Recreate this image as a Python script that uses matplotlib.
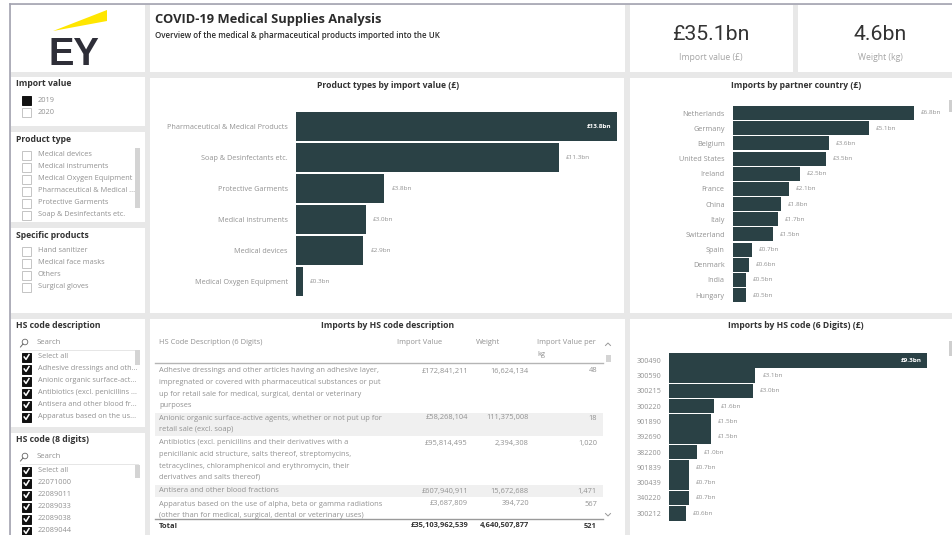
import matplotlib
matplotlib.use("Agg")
import matplotlib.pyplot as plt
from matplotlib.patches import Rectangle, Polygon

plt.rcParams["font.family"] = ["Open Sans", "DejaVu Sans"]

BAR = "#2a4145"
GREY = "#929292"
DARK = "#333333"
W, H = 953, 535

# bar chart data
product_types = ["Pharmaceutical & Medical Products", "Soap & Desinfectants etc.", "Protective Garments",
                 "Medical instruments", "Medical devices", "Medical Oxygen Equipment"]
product_values = [13.8, 11.3, 3.8, 3.0, 2.9, 0.3]

countries = ["Netherlands", "Germany", "Belgium", "United States", "Ireland", "France", "China",
             "Italy", "Switzerland", "Spain", "Denmark", "India", "Hungary"]
country_values = [6.8, 5.1, 3.6, 3.5, 2.5, 2.1, 1.8, 1.7, 1.5, 0.7, 0.6, 0.5, 0.5]

hs_codes = ["300490", "300590", "300215", "300220", "901890", "392690",
            "382200", "901839", "300439", "340220", "300212"]
hs_values = [9.3, 3.1, 3.0, 1.6, 1.5, 1.5, 1.0, 0.7, 0.7, 0.7, 0.6]

# slicer items
import_years = ["2019", "2020"]
type_items = ["Medical devices", "Medical instruments", "Medical Oxygen Equipment",
              "Pharmaceutical & Medical ...", "Protective Garments", "Soap & Desinfectants etc."]
specific_items = ["Hand sanitizer", "Medical face masks", "Others", "Surgical gloves"]
desc_items = ["Select all", "Adhesive dressings and oth...", "Anionic organic surface-act...",
              "Antibiotics (excl. penicillins ...", "Antisera and other blood fr...", "Apparatus based on the us..."]
code8_items = ["Select all", "22071000", "22089011", "22089033", "22089038", "22089044"]

# table rows
table_desc = [
    ["Adhesive dressings and other articles having an adhesive layer,",
     "impregnated or covered with pharmaceutical substances or put",
     "up for retail sale for medical, surgical, dental or veterinary",
     "purposes"],
    ["Anionic organic surface-active agents, whether or not put up for",
     "retail sale (excl. soap)"],
    ["Antibiotics (excl. penicillins and their derivatives with a",
     "penicillanic acid structure, salts thereof, streptomycins,",
     "tetracyclines, chloramphenicol and erythromycin, their",
     "derivatives and salts thereof)"],
    ["Antisera and other blood fractions"],
    ["Apparatus based on the use of alpha, beta or gamma radiations",
     "(other than for medical, surgical, dental or veterinary uses)"],
]
table_value = ["£172,841,211", "£58,268,104", "£95,814,495", "£607,940,911", "£3,687,809"]
table_weight = ["16,624,134", "111,375,008", "2,394,308", "15,672,688", "394,720"]
table_per_kg = ["48", "18", "1,020", "1,471", "567"]
total_row = ["£35,103,962,539", "4,640,507,877", "521"]

fig = plt.figure(figsize=(W / 100, H / 100), dpi=100, facecolor="white")
bg = fig.add_axes([0, 0, 1, 1])
bg.set_xlim(0, W)
bg.set_ylim(H, 0)
bg.axis("off")


def box(x0, y0, x1, y1, color="white", z=1, ec="none", lw=0):
    bg.add_patch(Rectangle((x0, y0), x1 - x0, y1 - y0, facecolor=color, edgecolor=ec, linewidth=lw, zorder=z))


def txt(x, y, s, size=5.4, color=GREY, ha="left", weight="normal", z=5, **kw):
    bg.text(x, y, s, fontsize=size, color=color, ha=ha, va="center", fontweight=weight, zorder=z, **kw)


def check(y, on=False):
    box(22, y - 4.5, 31, y + 4.5, "#111111" if on else "white", 4, "#111111" if on else "#c4c4c4", 0.7)


def slicer(title, title_y, items, item_y, ticks=False, filled=()):
    txt(16, title_y, title, size=6.2, color=DARK, weight="bold")
    for i, item in enumerate(items):
        y = item_y + i * 12
        check(y, ticks or i in filled)
        if ticks:
            bg.plot([24.2, 26, 29], [y, y + 2.4, y - 2.4], color="white", lw=1.1, zorder=6)
        txt(38, y, item, size=5.3)


def search(y):
    bg.add_patch(plt.Circle((25, y - 1), 2.8, fill=False, ec="#666666", lw=0.6, zorder=5))
    bg.plot([23, 20.5], [y + 1, y + 4], color="#666666", lw=0.7, zorder=5)
    txt(37, y, "Search", size=5.6)
    bg.plot([20, 138], [y + 7, y + 7], color="#e6e6e6", lw=0.7, zorder=3)


def bars(names, values, left, right, first_top, pitch, height, size=5.2, val_size=4.6):
    # axes edges sit half a pitch outside the first and last bar centres
    n = len(values)
    centre = first_top + height / 2
    top = centre - pitch / 2
    bottom = centre + pitch * (n - 0.5)
    ax = fig.add_axes([left / W, 1 - bottom / H, (right - left) / W, (bottom - top) / H], zorder=3)
    ax.patch.set_alpha(0)
    ax.barh(range(n), values, height=height / pitch, color=BAR)
    ax.set_xlim(0, max(values))
    ax.set_ylim(n - 0.5, -0.5)
    ax.set_xticks([])
    ax.set_yticks(range(n))
    ax.set_yticklabels(names, fontsize=size, color=GREY)
    ax.tick_params(axis="y", length=0, pad=6)
    for s in ax.spines.values():
        s.set_visible(False)
    for i, v in enumerate(values):
        label = f"£{v:.1f}bn"
        if v == max(values) and right - left > 200:
            ax.annotate(label, (v, i), xytext=(-4, 0), textcoords="offset points", ha="right", va="center",
                        fontsize=val_size, color="white", fontweight="bold")
        else:
            ax.annotate(label, (v, i), xytext=(5, 0), textcoords="offset points", ha="left", va="center",
                        fontsize=val_size, color=GREY, annotation_clip=False)
    return ax


# page background and panels
box(10, 4, W, H, "#e8e8e8", 0)
bg.plot([10, W], [4, 4], color="#a3a3b0", lw=1.2, zorder=2)
bg.plot([10, 10], [4, H], color="#a3a3b0", lw=1.2, zorder=2)
panels = [(11, 5, 145, 72), (150, 5, 625, 72), (630, 5, 793, 72), (798, 5, 953, 72),
          (11, 77, 145, 126), (11, 132, 145, 222), (11, 228, 145, 313),
          (11, 319, 145, 427), (11, 433, 145, 535),
          (150, 78, 624, 313), (630, 78, 953, 313),
          (150, 319, 625, 535), (630, 319, 953, 535)]
for p in panels:
    box(*p)

# logo
bg.add_patch(Polygon([(53, 31), (107, 10), (107, 21)], closed=True, facecolor="#ffe600", zorder=3))
bg.text(74, 55, "EY", fontsize=27.5, fontweight="bold", family="Liberation Sans", color="#2e2e38",
        ha="center", va="center", zorder=3)

# header
txt(155, 19, "COVID-19 Medical Supplies Analysis", size=9.3, color="#2b2b2b", weight="bold")
txt(155, 35, "Overview of the medical & pharmaceutical products imported into the UK", size=5.8,
    color="#2b2b2b", weight="semibold")

# KPI cards
bg.text(711, 35, "£35.1bn", fontsize=15.3, family="Roboto", color="#333333", ha="center", va="center", zorder=5)
txt(711, 57, "Import value (£)", size=6.2, color="#a5a5a5", ha="center")
bg.text(880, 35, "4.6bn", fontsize=15.3, family="Roboto", color="#333333", ha="center", va="center", zorder=5)
txt(880, 57, "Weight (kg)", size=6.2, color="#a5a5a5", ha="center")

# slicers
slicer("Import value", 84, import_years, 100, filled=(0,))
slicer("Product type", 140, type_items, 155)
slicer("Specific products", 235, specific_items, 251)
slicer("HS code description", 326, desc_items, 357, ticks=True)
search(343)
slicer("HS code (8 digits)", 440, code8_items, 471, ticks=True)
search(457)
# covers the slicer row that runs past its panel
box(11, 222, 145, 228, "#e8e8e8", 7)
box(135, 148, 140, 208, "#d4d4d4", 4)
box(135, 350, 140, 365, "#d4d4d4", 4)
box(135, 465, 140, 478, "#d4d4d4", 4)

# bar charts
txt(388, 85, "Product types by import value (£)", size=6.2, color=DARK, ha="center", weight="bold")
bars(product_types, product_values, 296, 617, 112, 31, 29)
txt(796, 85, "Imports by partner country (£)", size=6.2, color=DARK, ha="center", weight="bold")
bars(countries, country_values, 733, 914, 106, 15.17, 14)
txt(796, 326, "Imports by HS code (6 Digits) (£)", size=6.2, color=DARK, ha="center", weight="bold")
bars(hs_codes, hs_values, 669.5, 927, 353, 15.3, 14.5)
box(949, 100, 953, 112, "#cfcfcf", 4)
box(949, 341, 953, 356, "#cfcfcf", 4)

# table
txt(388, 326, "Imports by HS code description", size=6.2, color=DARK, ha="center", weight="bold")
txt(159, 342, "HS Code Description (6 Digits)")
txt(397, 342, "Import Value")
txt(476, 342, "Weight")
txt(537, 342, "Import Value per")
txt(537, 354, "kg")
bg.plot([155, 603], [363, 363], color="#b5b5b5", lw=1, zorder=3)
box(155, 413, 603, 436, "#f0f0f0", 2)
box(155, 485, 603, 497, "#f0f0f0", 2)
row_tops = [371, 418, 443, 491, 504]
for i, lines in enumerate(table_desc):
    y = row_tops[i]
    for line in lines:
        txt(159, y, line, z=3)
        y += 11.5
    txt(468, row_tops[i], table_value[i], ha="right", z=3)
    txt(529, row_tops[i], table_weight[i], ha="right", z=3)
    txt(597, row_tops[i], table_per_kg[i], ha="right", z=3)
# total row hides the cut off last line
box(150, 519, 625, 535, "white", 4)
bg.plot([155, 603], [519, 519], color="#9a9a9a", lw=1, zorder=5)
txt(159, 526, "Total", color=DARK, weight="bold")
txt(468, 526, total_row[0], color=DARK, weight="bold", ha="right")
txt(529, 526, total_row[1], color=DARK, weight="bold", ha="right")
txt(597, 526, total_row[2], color=DARK, weight="bold", ha="right")
box(606, 355, 611, 362, "#d4d4d4", 4)
bg.plot([605.5, 608, 610.5], [345.5, 343, 345.5], color="#999999", lw=0.7, zorder=5)
bg.plot([605.5, 608, 610.5], [513.5, 516, 513.5], color="#999999", lw=0.7, zorder=5)

fig.savefig("out.png", dpi=100)
